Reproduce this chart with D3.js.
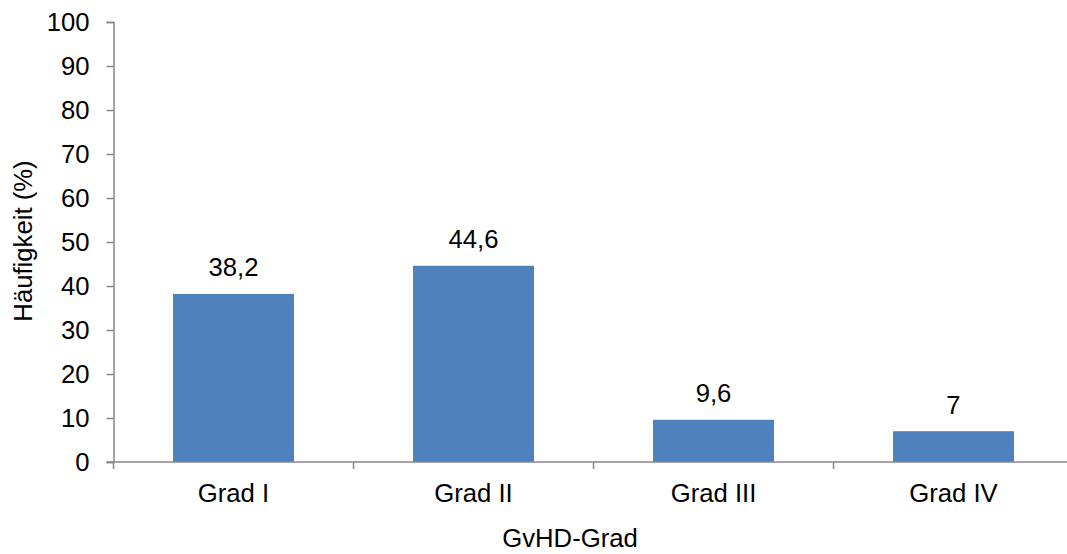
<!DOCTYPE html>
<html>
<head>
<meta charset="utf-8">
<script src="https://cdn.jsdelivr.net/npm/d3@7/dist/d3.min.js"></script>
<style>
  html, body { margin: 0; padding: 0; background: #fff; }
  svg { display: block; font-family: "Liberation Sans", Arial, sans-serif; }
</style>
</head>
<body>
<svg id="chart" width="1067" height="554"></svg>
<script>
// GvHD grade frequencies
const categories = ["Grad I", "Grad II", "Grad III", "Grad IV"];
const values = [38.2, 44.6, 9.6, 7];
const valueLabels = ["38,2", "44,6", "9,6", "7"];
const yTicks = [0, 10, 20, 30, 40, 50, 60, 70, 80, 90, 100];

const svg = d3.select("#chart");
const margin = { left: 113.5, top: 22, right: 1073.5, bottom: 462 };
const axisColor = "#868686";
const fontSize = 25.7;

const x = d3.scaleBand().domain(categories).range([margin.left, margin.right]).paddingInner(0.496).paddingOuter(0.248);
const y = d3.scaleLinear().domain([0, 100]).range([margin.bottom, margin.top]);

// bars
svg.append("g").selectAll("rect").data(values).join("rect")
  .attr("x", (d, i) => x(categories[i]))
  .attr("width", x.bandwidth())
  .attr("y", d => y(d))
  .attr("height", d => y(0) - y(d))
  .attr("fill", "#4F81BD");

// value labels
svg.append("g").selectAll("text").data(values).join("text")
  .attr("x", (d, i) => x(categories[i]) + x.bandwidth() / 2)
  .attr("y", d => y(d) - 17.5)
  .attr("text-anchor", "middle")
  .attr("font-size", fontSize)
  .attr("fill", "#000")
  .text((d, i) => valueLabels[i]);

// y axis
const yAxis = svg.append("g").attr("transform", `translate(${margin.left},0)`)
  .call(d3.axisLeft(y).tickValues(yTicks).tickSize(7).tickPadding(17).tickFormat(d3.format("d")));
yAxis.select(".domain").attr("stroke", axisColor).attr("stroke-width", 1.5);
yAxis.selectAll(".tick line").attr("stroke", axisColor).attr("stroke-width", 1.5);
yAxis.selectAll(".tick text").attr("font-size", fontSize).attr("fill", "#000").attr("font-family", null);

// x axis with ticks at band boundaries
const xg = svg.append("g").attr("transform", `translate(0,${margin.bottom})`);
xg.append("line").attr("x1", margin.left - 7).attr("x2", margin.right)
  .attr("stroke", axisColor).attr("stroke-width", 1.5);
const step = x.step();
const boundaries = d3.range(categories.length + 1).map(i => margin.left + i * step);
xg.selectAll("line.tk").data(boundaries).join("line").attr("class", "tk")
  .attr("x1", d => d).attr("x2", d => d).attr("y1", 0).attr("y2", 7)
  .attr("stroke", axisColor).attr("stroke-width", 1.5);
xg.selectAll("text").data(categories).join("text")
  .attr("x", d => x(d) + x.bandwidth() / 2)
  .attr("y", 40)
  .attr("text-anchor", "middle")
  .attr("font-size", fontSize)
  .attr("fill", "#000")
  .text(d => d);

// axis titles
svg.append("text").attr("x", 570).attr("y", 547).attr("text-anchor", "middle")
  .attr("font-size", fontSize).attr("fill", "#000").text("GvHD-Grad");
svg.append("text").attr("transform", "translate(32,241) rotate(-90)").attr("text-anchor", "middle")
  .attr("font-size", fontSize).attr("fill", "#000").text("Häufigkeit (%)");
</script>
</body>
</html>
